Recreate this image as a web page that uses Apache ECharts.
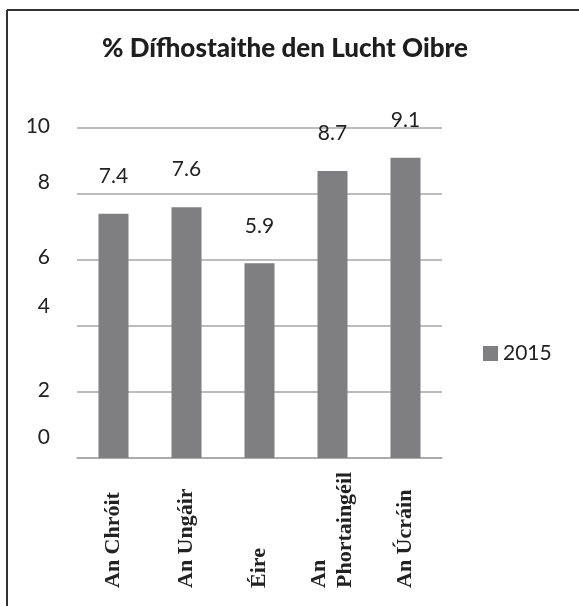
<!DOCTYPE html>
<html lang="ga">
<head>
<meta charset="UTF-8">
<title>% Dífhostaithe den Lucht Oibre</title>
<script src="https://cdn.jsdelivr.net/npm/echarts@6/dist/echarts.min.js"></script>
<style>
  html, body { margin: 0; padding: 0; background: #fff; }
  #chart { width: 579px; height: 606px; }
</style>
</head>
<body>
<div id="chart"></div>
<script>
var countries = ['An Chróit', 'An Ungáir', 'Éire', 'An\nPhortaingéil', 'An Úcráin'];
var values2015 = [7.4, 7.6, 5.9, 8.7, 9.1];
var seriesName = '2015';
var yTicks = [0, 2, 4, 6, 8, 10];
// the y labels in the picture sit a little above their gridlines, by uneven amounts
var yLabelLift = { 0: 21, 2: 2, 4: 20, 6: 3, 8: 12, 10: 2 };

var sans = 'Lato';
var rich = {};
yTicks.forEach(function (v) {
    rich['y' + v] = {
        fontFamily: sans, fontSize: 21, color: '#222',
        padding: [0, 0, yLabelLift[v] * 2, 0]
    };
});

var chart = echarts.init(document.getElementById('chart'));
chart.setOption({
    animation: false,
    title: {
        text: '% Dífhostaithe den Lucht Oibre',
        left: 280, top: 31, textAlign: 'center',
        textStyle: { fontFamily: sans, fontWeight: 900, fontSize: 26, color: '#1e1e1e' }
    },
    legend: {
        left: 478, top: 338, itemWidth: 15, itemHeight: 15, icon: 'rect', itemGap: 6,
        textStyle: { fontFamily: sans, fontSize: 21, color: '#222' },
        data: [seriesName]
    },
    grid: { left: 77, right: 137, top: 128, bottom: 148, containLabel: false },
    xAxis: {
        type: 'category',
        data: countries,
        axisLine: { lineStyle: { color: '#a6a6a6', width: 1.5 } },
        axisTick: { length: 9, lineStyle: { color: '#a6a6a6', width: 1.5 } },
        axisLabel: {
            rotate: 90, align: 'left', margin: 130, interval: 0,
            fontFamily: 'Liberation Serif', fontWeight: 'bold', fontSize: 22, color: '#222',
            lineHeight: 26
        }
    },
    yAxis: {
        type: 'value', min: 0, max: 10, interval: 2,
        axisLine: { show: false },
        axisTick: { show: false },
        splitLine: { lineStyle: { color: '#a6a6a6', width: 1.5 } },
        axisLabel: {
            margin: 27,
            formatter: function (v) { return '{y' + v + '|' + v + '}'; },
            rich: rich
        }
    },
    series: [{
        name: seriesName,
        type: 'bar',
        data: values2015,
        barWidth: 30,
        itemStyle: { color: '#7f7f82' },
        label: {
            show: true, position: 'top', distance: 27,
            fontFamily: sans, fontSize: 21, color: '#222'
        }
    }],
    graphic: [
        { type: 'line', shape: { x1: 7, y1: 10, x2: 579, y2: 10 }, style: { stroke: '#333', lineWidth: 2 } },
        { type: 'line', shape: { x1: 7, y1: 10, x2: 7, y2: 606 }, style: { stroke: '#333', lineWidth: 2 } }
    ]
});
</script>
</body>
</html>
